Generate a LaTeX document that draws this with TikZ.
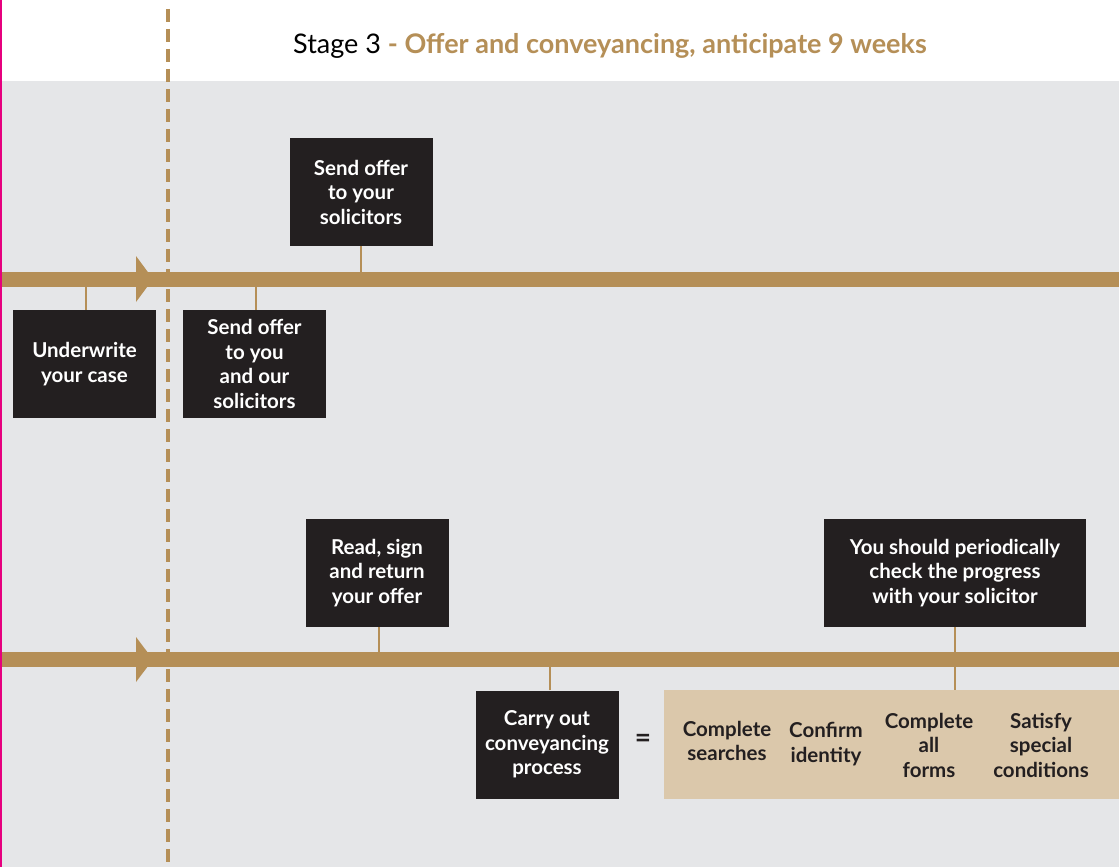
\documentclass[tikz,border=0pt]{standalone}
\usepackage{fontspec}
\setmainfont{Lato}
\usetikzlibrary{calc}

\definecolor{gold}{RGB}{181,143,87}
\definecolor{boxdark}{RGB}{35,31,32}
\definecolor{panel}{RGB}{229,230,232}
\definecolor{beige}{RGB}{219,200,171}
\definecolor{edge}{RGB}{230,0,126}

\begin{document}
\begin{tikzpicture}[x=1pt,y=-1pt,
  blk/.style={fill=boxdark,text=white,font=\bfseries\fontsize{20.5}{24.5}\selectfont,
    align=center,inner sep=0pt,minimum width=143pt,minimum height=108pt},
  task/.style={text=boxdark,font=\bfseries\fontsize{20.5}{24.5}\selectfont,align=center,inner sep=0pt},
  tick/.style={draw=gold,line width=2.5pt},
  bar/.style={draw=gold,line width=15pt}]
\useasboundingbox (0,0) rectangle (1119,867);
% background
\fill[white] (0,0) rectangle (1119,81);
\fill[panel] (0,81) rectangle (1119,867);
\draw[gold,line width=3.5pt,dash pattern=on 13pt off 7pt] (168,9)--(168,867);
% title
\node[anchor=base west,inner sep=0pt,font=\fontsize{27}{30}\selectfont] (title) at (293,54)
  {Stage 3 \textcolor{gold}{\bfseries - Offer and conveyancing, anticipate 9 weeks}};
% timelines
\coordinate (barA) at (0,279);
\coordinate (barB) at (0,659.5);
\draw[bar] (barA)--(1119,279);
\draw[bar] (barB)--(1119,659.5);
\fill[gold] (136,256)--(153,279)--(136,302)--cycle;
\fill[gold] (136,637)--(153,659.5)--(136,682)--cycle;
% boxes
\node[blk] (offerSol) at (361,192) {Send offer\\to your\\solicitors};
\node[blk] (underwrite) at (84.5,364) {Underwrite\\your case};
\node[blk] (offerYou) at (254.5,364) {Send offer\\to you\\and our\\solicitors};
\node[blk] (readSign) at (377,573) {Read, sign\\and return\\your offer};
\node[blk,minimum width=262pt] (checkIn) at (955,573) {You should periodically\\check the progress\\with your solicitor};
\node[blk] (carryOut) at (547,744.5) {Carry out\\conveyancing\\process};
\node[task,font=\bfseries\fontsize{28}{30}\selectfont] (eq) at (643,741) {=};
\node[fill=beige,inner sep=0pt,minimum width=455pt,minimum height=109pt,anchor=north west] (tasks) at (664,690) {};
\node[task] (searches) at (727,741) {Complete\\searches};
\node[task] (identity) at (826,744) {Confirm\\identity};
\node[task] (forms) at (929,745) {Complete\\all\\forms};
\node[task] (special) at (1041,745) {Satisfy\\special\\conditions};
% ticks
\draw[tick] (offerSol.south)--(offerSol.south |- barA);
\draw[tick] ($(underwrite.north)+(1.5,0)$)--($(underwrite.north |- barA)+(1.5,0)$);
\draw[tick] ($(offerYou.north)+(1.5,0)$)--($(offerYou.north |- barA)+(1.5,0)$);
\draw[tick] ($(readSign.south)+(2,0)$)--($(readSign.south |- barB)+(2,0)$);
\draw[tick] ($(carryOut.north)+(3,0)$)--($(carryOut.north |- barB)+(3,0)$);
\draw[tick] (checkIn.south)--(checkIn.south |- tasks.north);
% edge
\draw[edge,line width=1.5pt] (0.75,0)--(0.75,867);
\end{tikzpicture}
\end{document}
